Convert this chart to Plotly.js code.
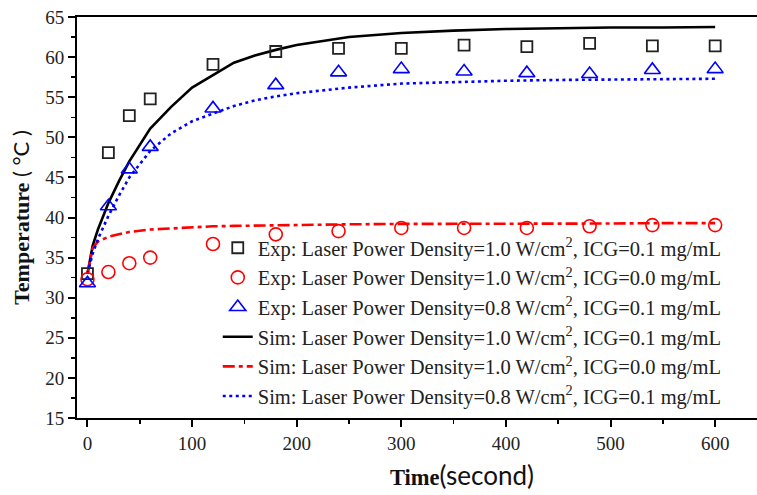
<!DOCTYPE html>
<html>
<head>
<meta charset="utf-8">
<script src="https://cdn.plot.ly/plotly-3.0.1.min.js"></script>
<style>html,body{margin:0;padding:0;background:#fff;}</style>
</head>
<body>
<div id="chart" style="width:757px;height:495px;"></div>
<script>
// Experimental sampling times (s)
const expTime = [0, 20, 40, 60, 120, 180, 240, 300, 360, 420, 480, 540, 600];
const expP10_ICG01 = [33.0, 48.1, 52.7, 54.8, 59.1, 60.7, 61.1, 61.1, 61.5, 61.3, 61.7, 61.4, 61.4];
const expP10_ICG00 = [32.3, 33.2, 34.3, 35.0, 36.7, 37.9, 38.3, 38.7, 38.7, 38.7, 38.9, 39.05, 39.05];
const expP08_ICG01 = [31.8, 41.4, 46.0, 48.8, 53.6, 56.5, 58.1, 58.5, 58.2, 58.0, 57.9, 58.4, 58.5];

// Simulation times (s)
const simTime = [0, 5, 10, 20, 30, 40, 60, 80, 100, 120, 140, 160, 180, 200, 250, 300, 350, 400, 450, 500, 550, 600];
const simP10_ICG01 = [33.0, 36.5, 38.5, 41.8, 44.5, 47.0, 51.1, 53.8, 56.2, 57.8, 59.3, 60.2, 60.9, 61.5, 62.5, 63.0, 63.3, 63.5, 63.6, 63.7, 63.7, 63.75];
const simP10_ICG00 = [33.0, 36.2, 37.0, 37.6, 37.9, 38.2, 38.5, 38.65, 38.8, 38.9, 38.95, 39.0, 39.05, 39.1, 39.15, 39.2, 39.2, 39.25, 39.25, 39.25, 39.3, 39.3];
const simP08_ICG01 = [33.0, 35.5, 37.3, 40.2, 42.7, 45.0, 48.3, 50.5, 52.0, 53.0, 53.9, 54.6, 55.1, 55.5, 56.2, 56.7, 56.9, 57.05, 57.15, 57.2, 57.25, 57.3];

const names = [
  'Exp: Laser Power Density=1.0 W/cm<sup>2</sup>, ICG=0.1 mg/mL',
  'Exp: Laser Power Density=1.0 W/cm<sup>2</sup>, ICG=0.0 mg/mL',
  'Exp: Laser Power Density=0.8 W/cm<sup>2</sup>, ICG=0.1 mg/mL',
  'Sim: Laser Power Density=1.0 W/cm<sup>2</sup>, ICG=0.1 mg/mL',
  'Sim: Laser Power Density=1.0 W/cm<sup>2</sup>, ICG=0.0 mg/mL',
  'Sim: Laser Power Density=0.8 W/cm<sup>2</sup>, ICG=0.1 mg/mL'
];

const SERIF = 'Liberation Serif, Times New Roman, serif';

const traces = [
  {x: simTime, y: simP10_ICG01, mode: 'lines', name: names[3], legendgroup: 'g4', legendrank: 4,
   line: {color: '#000000', width: 2.6}},
  {x: simTime, y: simP10_ICG00, mode: 'lines', name: names[4], legendgroup: 'g5', legendrank: 5,
   line: {color: '#ff0000', width: 2.6, dash: '12px,4px,4px,4px'}},
  {x: simTime, y: simP08_ICG01, mode: 'lines', name: names[5], legendgroup: 'g6', legendrank: 6,
   line: {color: '#0000ff', width: 2.6, dash: '3px,3.5px'}},
  {x: expTime, y: expP10_ICG01, mode: 'markers', name: names[0], legendgroup: 'g1', legendrank: 1,
   marker: {symbol: 'square-open', size: 11, color: '#222222', line: {width: 1.8}}},
  {x: expTime, y: expP10_ICG00, mode: 'markers', name: names[1], legendgroup: 'g2', legendrank: 2,
   marker: {symbol: 'circle-open', size: 13, color: '#ff0000', line: {width: 1.6}}},
  {x: expTime, y: expP08_ICG01, mode: 'markers', name: names[2], legendgroup: 'g3', legendrank: 3,
   marker: {symbol: 'triangle-up-open', size: 14, color: '#0000ff', line: {width: 1.6}}}
];

const layout = {
  width: 757, height: 495,
  margin: {l: 77, r: 0, t: 17, b: 77},
  paper_bgcolor: '#ffffff', plot_bgcolor: '#ffffff',
  font: {family: SERIF, color: '#222222', size: 18},
  showlegend: true,
  legend: {
    x: 0.207, y: 0.474, xanchor: 'left', yanchor: 'top',
    traceorder: 'grouped', tracegroupgap: 0,
    bgcolor: 'rgba(0,0,0,0)', borderwidth: 0,
    font: {family: SERIF, size: 20.5, color: '#222222'}
  },
  xaxis: {
    range: [-10, 640], showgrid: false, zeroline: false,
    showline: true, linecolor: '#000000', linewidth: 2, mirror: true,
    ticks: 'outside', ticklen: 7, tickwidth: 2, tickcolor: '#000000',
    dtick: 100, tick0: 0,
    minor: {dtick: 50, ticks: 'outside', ticklen: 4, tickwidth: 1.5, tickcolor: '#000000'},
    tickfont: {family: SERIF, size: 19, color: '#222222'}
  },
  yaxis: {
    range: [15, 65], showgrid: false, zeroline: false,
    showline: true, linecolor: '#000000', linewidth: 2, mirror: false,
    ticks: 'outside', ticklen: 7, tickwidth: 2, tickcolor: '#000000',
    dtick: 5, tick0: 15,
    minor: {dtick: 2.5, ticks: 'outside', ticklen: 4, tickwidth: 1.5, tickcolor: '#000000'},
    tickfont: {family: SERIF, size: 19, color: '#222222'},
    title: {text: '<b>Temperature</b><span style="font-family:Lato;"> ( °C )</span>', font: {family: SERIF, size: 22, color: '#111111'}, standoff: 10}
  },
  annotations: [{
    xref: 'paper', yref: 'paper', x: 0.566, y: -0.142, xanchor: 'center', yanchor: 'middle',
    showarrow: false,
    text: '<b>Time</b><span style="font-family:Lato;font-size:26px;">(second)</span>',
    font: {family: SERIF, size: 22.5, color: '#111111'}
  }]
};

Plotly.newPlot('chart', traces, layout, {displayModeBar: false, staticPlot: true});
</script>
</body>
</html>
